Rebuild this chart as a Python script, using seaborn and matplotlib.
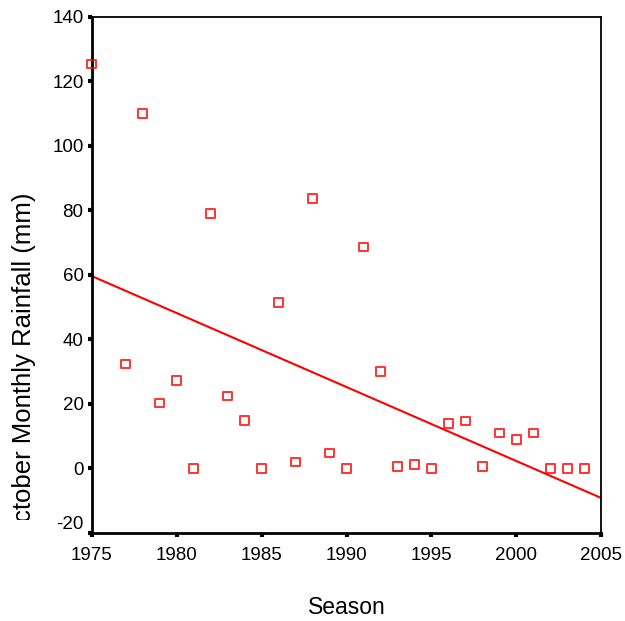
import matplotlib
matplotlib.use('Agg')
import matplotlib.pyplot as plt
from matplotlib.transforms import Bbox
import seaborn as sns
import pandas as pd

sns.set_theme(style='white')
plt.rcParams['font.family'] = ['Liberation Sans', 'DejaVu Sans']
plt.rcParams['axes.unicode_minus'] = False

seasons = [1975, 1977, 1978, 1979, 1980, 1981, 1982, 1983, 1984, 1985,
           1986, 1987, 1988, 1989, 1990, 1991, 1992, 1993, 1994, 1995,
           1996, 1997, 1998, 1999, 2000, 2001, 2002, 2003, 2004]
rainfall = [125.4, 32.4, 110.0, 20.3, 27.4, 0.0, 79.0, 22.5, 15.0, 0.0,
            51.5, 2.0, 83.6, 4.8, 0.0, 68.7, 30.0, 0.5, 1.2, 0.0,
            14.0, 14.7, 0.5, 11.0, 9.0, 11.0, 0.0, 0.0, 0.0]
x_ticks = [1975, 1980, 1985, 1990, 1995, 2000, 2005]
y_ticks = [-20, 0, 20, 40, 60, 80, 100, 120, 140]

df = pd.DataFrame({'Season': seasons, 'Rainfall': rainfall})

fig = plt.figure(figsize=(6.25, 6.21), dpi=100)
ax = fig.add_axes([0.147, 0.1417, 0.815, 0.831])
ax.set_xlim(1975, 2005)
ax.set_ylim(-20, 140)

sns.regplot(data=df, x='Season', y='Rainfall', ax=ax, ci=None, truncate=False,
            marker='s',
            scatter_kws={'s': 40, 'facecolors': 'none', 'edgecolors': 'red',
                         'linewidths': 1.4, 'clip_on': False, 'zorder': 3},
            line_kws={'color': 'red', 'lw': 1.5})

ax.set_xticks(x_ticks)
ax.set_yticks(y_ticks)
ax.tick_params(bottom=True, left=True, direction='out', length=3, width=3,
               color='black', labelsize=13.5, labelcolor='black')
ax.tick_params(axis='x', pad=7)
ax.tick_params(axis='y', pad=3)
# lowest y label sits a little above its tick, as in the reference
ax.get_yticklabels()[0].set_va('bottom')
for side in ['left', 'bottom']:
    ax.spines[side].set_linewidth(2)
for side in ['top', 'right']:
    ax.spines[side].set_linewidth(1.3)
for s in ax.spines.values():
    s.set_color('black')

ax.set_xlabel('Season', fontsize=16.5, labelpad=23, color='black')
ax.set_ylabel('')

# y label, cut at the bottom as in the reference
yl = fig.text(24 / 625, 1 - 367 / 621, 'October Monthly Rainfall (mm)',
              rotation=90, ha='center', va='center', fontsize=18.5, color='black')
yl.set_clip_box(Bbox.from_extents(0, 101, 90, 621))
yl.set_clip_on(True)

plt.savefig('out.png', dpi=100)
plt.close()
